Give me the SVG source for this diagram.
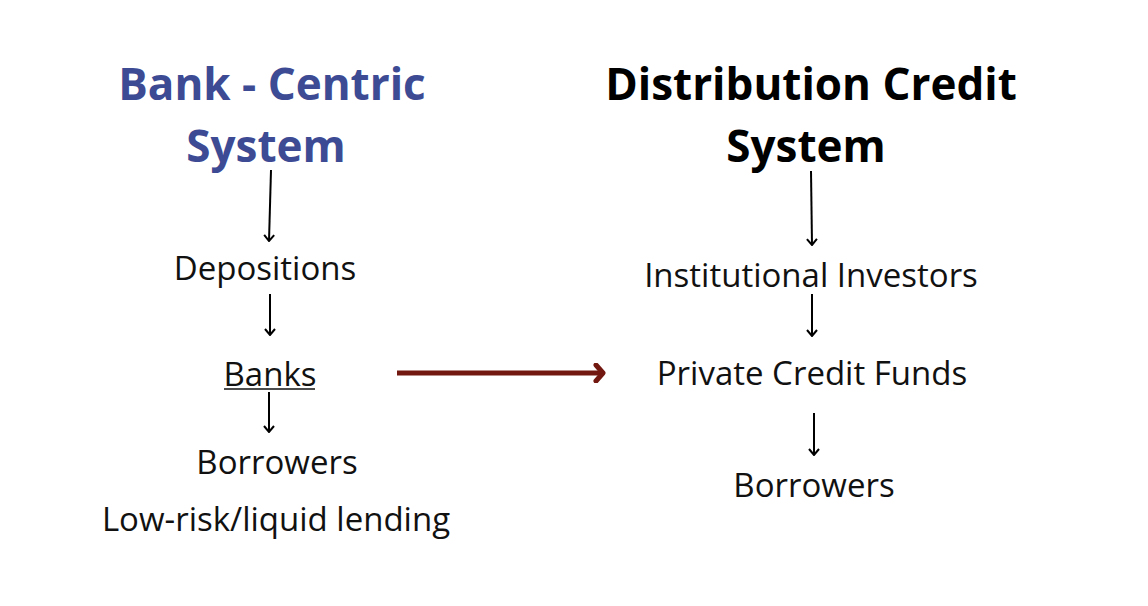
<svg xmlns="http://www.w3.org/2000/svg" width="1148" height="606" viewBox="0 0 1148 606">
<defs>
<style>
.h{font-family:"Open Sans","Liberation Sans",sans-serif;font-weight:700;font-size:44px;text-anchor:middle}
.t{font-family:"Open Sans","Liberation Sans",sans-serif;font-size:33px;fill:#111;text-anchor:middle}
.c{stroke:#000;stroke-width:2;fill:none}
</style>
<marker id="ah" viewBox="0 0 12 12" refX="11" refY="6" markerWidth="12" markerHeight="12" markerUnits="userSpaceOnUse" orient="auto">
<path d="M5,1 L11,6 L5,11" fill="none" stroke="#000" stroke-width="2"/>
</marker>
<marker id="ahr" viewBox="0 0 20 20" refX="17" refY="10" markerWidth="20" markerHeight="20" markerUnits="userSpaceOnUse" orient="auto">
<path d="M10,2 L17,10 L10,18" fill="none" stroke="#731811" stroke-width="5" stroke-linecap="round" stroke-linejoin="round"/>
</marker>
</defs>
<rect width="1148" height="606" fill="#fff"/>
<g id="bank-title"><text class="h" x="272" y="100" fill="#3d4a94">Bank - Centric</text><text class="h" x="266" y="162" fill="#3d4a94">System</text></g>
<g id="dist-title"><text class="h" x="811" y="100" fill="#000">Distribution Credit</text><text class="h" x="806" y="162" fill="#000">System</text></g>
<g id="depositions"><text class="t" x="265" y="280">Depositions</text></g>
<g id="banks"><text class="t" x="270" y="386">Banks</text><line x1="224" y1="389" x2="315" y2="389" stroke="#111" stroke-width="1.5"/></g>
<g id="borrowers-left"><text class="t" x="277" y="474">Borrowers</text></g>
<g id="lowrisk"><text class="t" x="276" y="531">Low-risk/liquid lending</text></g>
<g id="institutional"><text class="t" x="811" y="287">Institutional Investors</text></g>
<g id="private-credit"><text class="t" x="812" y="385">Private Credit Funds</text></g>
<g id="borrowers-right"><text class="t" x="814" y="497">Borrowers</text></g>
<g id="connectors">
<line class="c" x1="271" y1="170" x2="269" y2="241" marker-end="url(#ah)"/>
<line class="c" x1="270" y1="294" x2="270" y2="335" marker-end="url(#ah)"/>
<line class="c" x1="269" y1="392" x2="269" y2="432" marker-end="url(#ah)"/>
<line class="c" x1="811" y1="171" x2="812" y2="245" marker-end="url(#ah)"/>
<line class="c" x1="812" y1="294" x2="812" y2="336" marker-end="url(#ah)"/>
<line class="c" x1="814" y1="413" x2="814" y2="455" marker-end="url(#ah)"/>
<line x1="397" y1="373" x2="603" y2="373" stroke="#731811" stroke-width="5" marker-end="url(#ahr)"/>
</g>
</svg>
